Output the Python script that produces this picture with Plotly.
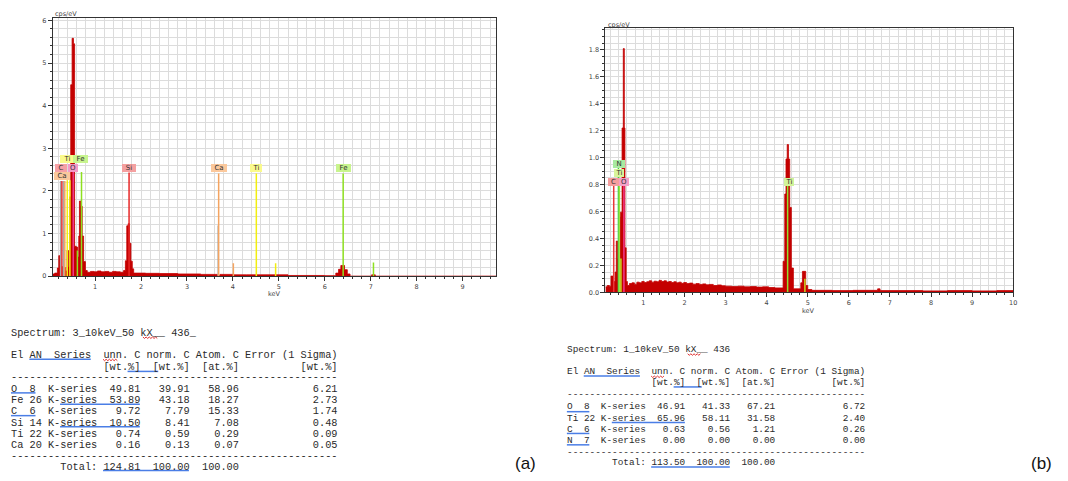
import plotly.graph_objects as go

W, H = 1068, 481

# ---------------- DATA ----------------
# Spectrum (a): bin start energy (keV) and counts (cps/eV)
spec_a_e = [0.08, 0.12, 0.18, 0.21, 0.25, 0.27, 0.30, 0.33, 0.36, 0.39, 0.42, 0.445, 0.47, 0.50, 0.53,
            0.555, 0.59, 0.62, 0.645, 0.66, 0.69, 0.72, 0.75, 0.79, 0.83, 0.90, 0.98, 1.05, 1.13, 1.22,
            1.30, 1.38, 1.46, 1.55, 1.62, 1.66, 1.69, 1.72, 1.75, 1.78, 1.81, 1.84, 2.10, 2.40, 2.80,
            3.30, 3.66, 3.72, 4.00, 4.30, 4.60, 5.20, 6.00, 6.24, 6.30, 6.35, 6.43, 6.49, 6.55, 7.02,
            7.10, 9.73]
spec_a_c = [0.05, 0.07, 0.19, 0.48, 0.12, 0.22, 0.10, 0.20, 0.12, 0.60, 0.22, 1.86, 4.49, 5.58, 5.45,
            0.70, 0.68, 0.45, 0.94, 1.76, 1.64, 0.94, 0.34, 0.13, 0.09, 0.11, 0.10, 0.12, 0.10, 0.11,
            0.09, 0.11, 0.10, 0.09, 0.13, 0.36, 1.18, 1.23, 0.77, 0.35, 0.17, 0.07, 0.065, 0.06, 0.05,
            0.04, 0.02, 0.04, 0.03, 0.03, 0.03, 0.015, 0.01, 0.07, 0.16, 0.25, 0.15, 0.05, 0.0, 0.03,
            0.0, 0.0]

# Spectrum (b)
spec_b_e = [0.075, 0.12, 0.17, 0.21, 0.26, 0.31, 0.34, 0.375, 0.40, 0.44, 0.48, 0.51, 0.535, 0.55,
            0.58, 0.61, 0.66, 0.72, 0.78, 0.84, 0.90, 0.96, 1.02, 1.08, 1.14, 1.20, 1.26, 1.32, 1.38,
            1.44, 1.50, 1.56, 1.62, 1.68, 1.74, 1.80, 1.86, 1.92, 1.98, 2.05, 2.12, 2.20, 2.28, 2.36,
            2.44, 2.52, 2.60, 2.70, 2.80, 2.90, 3.00, 3.15, 3.30, 3.45, 3.60, 3.75, 3.90, 4.05, 4.20,
            4.40, 4.44, 4.47, 4.50, 4.53, 4.56, 4.60, 4.65, 4.83, 4.87, 4.95, 5.00, 5.10, 5.60, 6.10,
            6.70, 6.76, 7.20, 7.80, 8.40, 9.00, 9.60, 10.0]
spec_b_c = [0.04, 0.05, 0.045, 0.12, 0.08, 0.15, 0.38, 0.25, 0.56, 0.595, 1.22, 1.81, 1.22, 0.33,
            0.08, 0.05, 0.065, 0.07, 0.06, 0.075, 0.07, 0.08, 0.072, 0.078, 0.085, 0.075, 0.082, 0.078, 0.088,
            0.08, 0.085, 0.076, 0.08, 0.072, 0.078, 0.07, 0.075, 0.066, 0.072, 0.064, 0.068, 0.06, 0.064, 0.058,
            0.062, 0.055, 0.058, 0.05, 0.054, 0.048, 0.045, 0.042, 0.045, 0.04, 0.042, 0.038, 0.04, 0.035, 0.032,
            0.23, 0.73, 0.99, 1.097, 0.99, 0.63, 0.18, 0.025, 0.07, 0.155, 0.05, 0.02, 0.014, 0.012, 0.014,
            0.025, 0.012, 0.012, 0.01, 0.012, 0.01, 0.012, 0.01]

# Element marker lines: element, energy (keV), height (cps/eV)
mark_a_el = ["gray", "C", "gray", "Ca", "Ti", "Ti", "O", "Fe", "Fe", "Si", "gray", "Ca", "Ca", "Ti", "Ti", "Fe", "Fe"]
mark_a_e = [0.25, 0.277, 0.31, 0.341, 0.395, 0.452, 0.525, 0.615, 0.705, 1.740, 3.68, 3.69, 4.01, 4.51, 4.93, 6.40, 7.06]
mark_a_h = [2.23, 2.23, 2.23, 2.23, 2.25, 2.25, 2.44, 0.60, 2.44, 2.43, 1.19, 2.41, 0.30, 2.41, 0.30, 2.41, 0.32]

mark_b_el = ["C", "N", "TiL", "TiL2", "O", "TiK", "TiK2"]
mark_b_e = [0.277, 0.392, 0.415, 0.452, 0.525, 4.51, 4.93]
mark_b_h = [0.80, 0.93, 0.85, 0.25, 0.80, 0.80, 0.10]

# Element labels: text, x (keV), y (cps/eV)
lab_a_txt = ["C", "O", "Ca", "Ti", "Fe", "Si", "Ca", "Ti", "Fe"]
lab_a_x = [0.269, 0.529, 0.291, 0.399, 0.692, 1.744, 3.696, 4.497, 6.397]
lab_a_y = [2.53, 2.53, 2.34, 2.74, 2.74, 2.53, 2.53, 2.53, 2.53]
lab_a_key = ["C", "O", "Ca", "Ti", "Fe", "Si", "Ca", "Ti", "Fe"]

lab_b_txt = ["C", "O", "Ti", "N", "Ti"]
lab_b_x = [0.265, 0.533, 0.40, 0.40, 4.535]
lab_b_y = [0.82, 0.82, 0.884, 0.95, 0.82]
lab_b_key = ["C", "O", "TiL", "N", "TiK"]

# Tables
spec_a_name = "Spectrum: 3_10keV_50 kX__ 436_"
spec_b_name = "Spectrum: 1_10keV_50 kX__ 436"
rows_a = [("O", "8", 49.81, 39.91, 58.96, 6.21),
          ("Fe", "26", 53.89, 43.18, 18.27, 2.73),
          ("C", "6", 9.72, 7.79, 15.33, 1.74),
          ("Si", "14", 10.50, 8.41, 7.08, 0.48),
          ("Ti", "22", 0.74, 0.59, 0.29, 0.09),
          ("Ca", "20", 0.16, 0.13, 0.07, 0.05)]
total_a = (124.81, 100.00, 100.00)
rows_b = [("O", "8", 46.91, 41.33, 67.21, 6.72),
          ("Ti", "22", 65.96, 58.11, 31.58, 2.40),
          ("C", "6", 0.63, 0.56, 1.21, 0.26),
          ("N", "7", 0.00, 0.00, 0.00, 0.00)]
total_b = (113.50, 100.00, 100.00)

# ---------------- STYLE ----------------
SPEC_COL = "#c40000"
GRID = "#dcdcdc"
line_col_a = {"gray": "#a8a8a8", "C": "#e83838", "Ca": "#f4a460", "Ti": "#f2ee10", "O": "#f0388c",
              "Fe": "#8ee020", "Si": "#e82828"}
line_col_b = {"C": "#e83838", "N": "#40d040", "TiL": "#9ee040", "TiL2": "#c8e020", "O": "#f0388c",
              "TiK": "#90e030", "TiK2": "#c8d820"}
box_col_a = {"C": "#f6a0a6", "O": "#f39ac8", "Ca": "#fbc89c", "Ti": "#fafa8c", "Fe": "#c8f48e", "Si": "#f4a0a0"}
box_col_b = {"C": "#f59e9e", "O": "#f5a0c8", "TiL": "#d8f49a", "N": "#a8eaa0", "TiK": "#d2f49a"}
lab_a_w = [12, 10, 16, 14, 15, 14, 16, 12, 15]
lab_b_w = [11, 10, 10, 12, 10]


def px(x):
    return x / W


def py(y):
    return 1 - y / H


fig = go.Figure()

for (e, c, xa, ya) in [(spec_a_e, spec_a_c, "x", "y"), (spec_b_e, spec_b_c, "x2", "y2")]:
    fig.add_trace(go.Scatter(x=list(e), y=list(c), mode="lines", line=dict(color=SPEC_COL, width=0.8, shape="hv"),
                             fill="tozeroy", fillcolor=SPEC_COL, xaxis=xa, yaxis=ya, hoverinfo="skip",
                             showlegend=False))


def add_markers(els, es, hs, cols, xa, ya):
    for key in dict.fromkeys(els):
        xs, ys = [], []
        for el, e, h in zip(els, es, hs):
            if el == key:
                xs += [e, e, None]
                ys += [0, h, None]
        fig.add_trace(go.Scatter(x=xs, y=ys, mode="lines", line=dict(color=cols[key], width=1.5),
                                 xaxis=xa, yaxis=ya, hoverinfo="skip", showlegend=False))


add_markers(mark_a_el, mark_a_e, mark_a_h, line_col_a, "x", "y")
add_markers(mark_b_el, mark_b_e, mark_b_h, line_col_b, "x2", "y2")

ann = []
for t, x, y, k, w in zip(lab_a_txt, lab_a_x, lab_a_y, lab_a_key, lab_a_w):
    ann.append(dict(text=t, x=x, y=y, xref="x", yref="y", showarrow=False, bgcolor=box_col_a[k],
                    xanchor="center", yanchor="middle",
                    font=dict(size=7, color="#333", family="DejaVu Sans"), width=w,
                    height=8, borderpad=0, borderwidth=0))
for t, x, y, k, w in zip(lab_b_txt, lab_b_x, lab_b_y, lab_b_key, lab_b_w):
    ann.append(dict(text=t, x=x, y=y, xref="x2", yref="y2", showarrow=False, bgcolor=box_col_b[k],
                    xanchor="center", yanchor="middle",
                    font=dict(size=7, color="#333", family="DejaVu Sans"), width=w, height=8,
                    borderpad=0, borderwidth=0))

# axis unit labels
for (tx, x, y) in [("cps/eV", 66, 13.5), ("keV", 275.5, 296), ("cps/eV", 621, 24), ("keV", 812, 313)]:
    ann.append(dict(text=tx, x=px(x), y=py(y), xref="paper", yref="paper", showarrow=False,
                    xanchor="center", yanchor="middle",
                    font=dict(size=6.5, color="#444", family="DejaVu Sans"), borderpad=0))

# panel letters
for (tx, x) in [("(a)", 527), ("(b)", 1045)]:
    ann.append(dict(text=tx, x=px(x), y=py(467), xref="paper", yref="paper", showarrow=False,
                    xanchor="center", yanchor="middle",
                    font=dict(size=17, color="#111", family="Liberation Sans")))

# tables
shapes = []


def fmt_row(r):
    el, an, u, n, a, err = r
    return (el.ljust(2) + " " + an.ljust(2) + " " + "K-series" + f"{u:7.2f}" + f"{n:8.2f}" + f"{a:8.2f}"
            + f"{err:16.2f}")


def nb(s):
    return s.replace(" ", "\u00a0")


def add_table(x0, cw, fs, name, rows, total, ys, ul):
    lines = [name,
             "El AN  Series  unn. C norm. C Atom. C Error (1 Sigma)",
             " " * 15 + "[wt.%]  [wt.%]  [at.%]" + " " * 10 + "[wt.%]",
             "-" * 53]
    lines += [fmt_row(r) for r in rows]
    lines += ["-" * 53, " " * 8 + "Total:" + f"{total[0]:7.2f}" + f"{total[1]:8.2f}" + f"{total[2]:8.2f}"]
    for s, y in zip(lines, ys):
        ann.append(dict(text=nb(s), x=px(x0), y=py(y), xref="paper", yref="paper", xanchor="left",
                        yanchor="middle", showarrow=False, borderpad=0, borderwidth=0,
                        font=dict(size=fs, color="#2a2a2a", family="Liberation Mono")))
    for (i0, i1, y, kind) in ul:
        xa, xb = x0 + i0 * cw, x0 + i1 * cw
        if kind == "b":
            shapes.append(dict(type="line", xref="paper", yref="paper", x0=px(xa), x1=px(xb), y0=py(y),
                               y1=py(y), line=dict(color="#4a7ee6", width=1.5)))
        else:
            pts = []
            xx = xa
            k = 0
            while xx <= xb:
                pts.append(f"{px(xx):.5f},{py(y + (1 if k % 2 else -0.5)):.5f}")
                xx += 1.6
                k += 1
            shapes.append(dict(type="path", xref="paper", yref="paper", path="M" + " L".join(pts),
                               line=dict(color="#e03030", width=1)))


ys_a = [335, 357.7, 369.4, 380, 391.7, 403.3, 414.6, 426, 437.4, 448.7, 460, 470.7]
ul_a = [(3, 13, 362, "b"), (15, 17.5, 362.5, "r"), (19, 24, 374.3, "b"), (21.5, 24, 340, "r"),
        (0, 4, 396, "b"), (8, 21, 407.5, "b"), (0, 4, 419, "b"), (8, 21, 430.3, "b"), (15, 29, 474.5, "b")]
add_table(11, 6.16, 10.27, spec_a_name, rows_a, total_a, ys_a, ul_a)

ys_b = [352.3, 374.3, 386, 398, 410, 421.5, 433, 444.5, 456, 466.7]
ul_b = [(3, 13, 379, "b"), (15, 17.5, 379.5, "r"), (19, 24, 390, "b"), (21.5, 24, 357, "r"),
        (0, 4, 415, "b"), (8, 21, 426, "b"), (0, 4, 437, "b"), (0, 4, 448.5, "b"), (15, 29, 471, "b")]
add_table(569, 5.64, 9.4, spec_b_name, rows_b, total_b, ys_b, ul_b)

tickfont = dict(size=6.5, color="#444", family="DejaVu Sans")


def xaxis(domain, rng, anchor):
    return dict(domain=domain, range=rng, anchor=anchor, dtick=1, tick0=0, ticks="outside", ticklen=4,
                tickcolor="#333", showline=True, mirror=True, linecolor="#333", linewidth=1,
                showgrid=True, gridcolor=GRID, gridwidth=1, zeroline=False, tickfont=tickfont,
                minor=dict(dtick=0.2, tick0=0, ticks="outside", ticklen=2, tickcolor="#333",
                           showgrid=True, gridcolor=GRID, gridwidth=1))


def yaxis(domain, rng, anchor, dtick, mdt, fmt):
    return dict(domain=domain, range=rng, anchor=anchor, dtick=dtick, tick0=0, ticks="outside", ticklen=4,
                tickcolor="#333", showline=True, mirror=True, linecolor="#333", linewidth=1,
                showgrid=True, gridcolor=GRID, gridwidth=1, zeroline=False, tickfont=tickfont,
                tickformat=fmt,
                minor=dict(dtick=mdt, tick0=0, ticks="outside", ticklen=2, tickcolor="#333",
                           showgrid=True, gridcolor=GRID, gridwidth=1))


fig.update_layout(
    width=W, height=H, margin=dict(l=0, r=0, t=0, b=0), paper_bgcolor="white", plot_bgcolor="white",
    showlegend=False, hovermode=False,
    xaxis=xaxis([53 / W, 498 / W], [0.08, 9.73], "y"),
    yaxis=yaxis([1 - 278 / H, 1 - 17 / H], [0, 6.06], "x", 1, 0.2, "d"),
    xaxis2=xaxis([607.7 / W, 1017 / W], [0.075, 10.0], "y2"),
    yaxis2=yaxis([1 - 294.3 / H, 1 - 27.7 / H], [0, 1.96], "x2", 0.2, 0.05, ".1f"),
    annotations=ann, shapes=shapes,
)

fig.write_html("out.html", config={"displayModeBar": False, "staticPlot": True},
               post_script="document.body.style.margin='0px';document.body.style.padding='0px';")
